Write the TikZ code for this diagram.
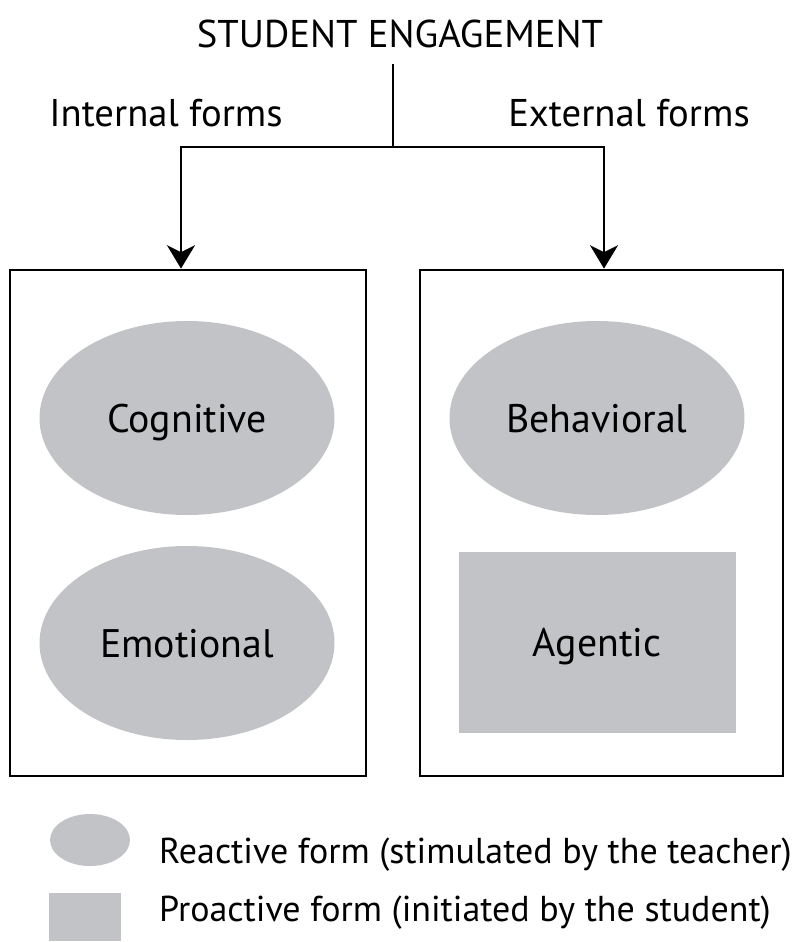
\documentclass[tikz,border=0pt]{standalone}
\usepackage{fontspec}
\setmainfont{PT Sans}
\usetikzlibrary{arrows.meta,shapes.geometric}

\definecolor{formgray}{RGB}{193, 195, 198}

\begin{document}
\begin{tikzpicture}[x=0.03cm, y=-0.03cm,
    txt/.style={font=\fontsize{33}{40}\selectfont, inner sep=0pt},
    frame/.style={draw, line width=2.4pt, minimum height=506*0.03cm},
    reactive/.style={ellipse, fill=formgray, txt, font=\fontsize{34}{40}\selectfont, text depth=0pt,
      minimum width=295*0.03cm, minimum height=194*0.03cm},
    proactive/.style={rectangle, fill=formgray, txt, font=\fontsize{34}{40}\selectfont, text depth=0pt,
      minimum width=277*0.03cm, minimum height=181*0.03cm},
    conn/.style={line width=1.8pt},
    tip/.style={conn, -{Stealth[length=20pt, width=24pt, inset=6pt]}}]
      \def\px{0.03cm}
      \useasboundingbox (0, 0) rectangle (794, 942);

      % heading and the two kinds of forms
      \node[txt] (title) at (400, 34) {STUDENT ENGAGEMENT};
      \node[txt] (internal) at (166, 113) {Internal forms};
      \node[txt] (external) at (629, 113) {External forms};

      % the two frames
      \node[frame, minimum width=356*\px] (inbox) at (188, 523) {};
      \node[frame, minimum width=363*\px] (exbox) at (601.5, 523) {};

      % fork from the heading
      \coordinate (stem) at (393, 64);
      \coordinate (fork) at (393, 147);
      \draw[conn] (stem) -- (fork);
      \draw[tip] (fork) -| ([xshift=-7*\px]inbox.north);
      \draw[tip] (fork) -| ([xshift=2.5*\px]exbox.north);

      % forms inside the frames
      \node[reactive] (cognitive) at (187, 418) {Cognitive};
      \node[reactive] (emotional) at (187, 643) {Emotional};
      \node[reactive] (behavioral) at (597, 418) {Behavioral};
      \node[proactive] (agentic) at (597, 642) {Agentic};

      % legend
      \node[ellipse, fill=formgray, minimum width=80*\px, minimum height=52*\px] (keyreact) at (90, 840) {};
      \node[rectangle, fill=formgray, minimum width=72*\px, minimum height=48*\px] (keypro) at (85, 917) {};
      \node[txt, font=\fontsize{30.7}{36}\selectfont, anchor=west] (reacttext) at (159, 855) {Reactive form (stimulated by the teacher)};
      \node[txt, font=\fontsize{30.7}{36}\selectfont, anchor=west] (protext) at (159, 913) {Proactive form (initiated by the student)};
\end{tikzpicture}
\end{document}
